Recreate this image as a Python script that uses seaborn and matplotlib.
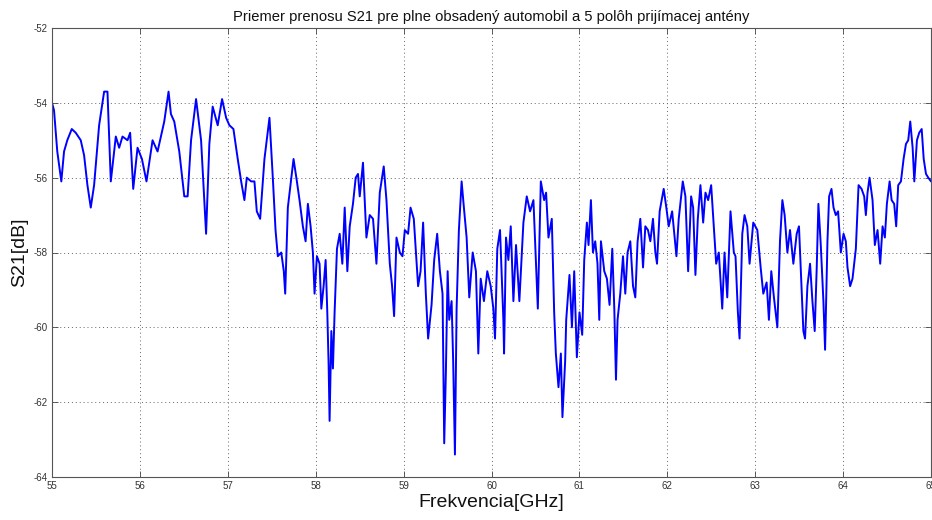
import numpy as np
import pandas as pd
import matplotlib
matplotlib.use("Agg")
import matplotlib.pyplot as plt
import seaborn as sns

# Frequency [GHz] and S21 [dB]
freq_ghz = [
    55.000, 55.023, 55.060, 55.106, 55.137, 55.174, 55.225, 55.270, 55.327, 55.365,
    55.403, 55.441, 55.479, 55.536, 55.593, 55.631, 55.669, 55.726, 55.764, 55.802,
    55.859, 55.889, 55.924, 55.973, 56.023, 56.075, 56.144, 56.201, 56.277, 56.326,
    56.353, 56.391, 56.448, 56.505, 56.543, 56.582, 56.639, 56.696, 56.753, 56.790,
    56.828, 56.885, 56.935, 56.981, 57.018, 57.064, 57.113, 57.152, 57.189, 57.216,
    57.266, 57.303, 57.330, 57.368, 57.417, 57.474, 57.512, 57.543, 57.569, 57.608,
    57.637, 57.653, 57.683, 57.748, 57.786, 57.816, 57.854, 57.885, 57.911, 57.942,
    57.968, 57.987, 58.014, 58.044, 58.064, 58.090, 58.113, 58.132, 58.147, 58.158,
    58.178, 58.196, 58.215, 58.242, 58.273, 58.303, 58.330, 58.360, 58.387, 58.424,
    58.455, 58.481, 58.501, 58.538, 58.577, 58.615, 58.652, 58.691, 58.729, 58.774,
    58.805, 58.843, 58.869, 58.892, 58.919, 58.957, 58.987, 59.014, 59.051, 59.079,
    59.116, 59.165, 59.193, 59.222, 59.253, 59.279, 59.318, 59.348, 59.382, 59.413,
    59.443, 59.462, 59.481, 59.501, 59.519, 59.546, 59.564, 59.584, 59.603, 59.629,
    59.660, 59.686, 59.717, 59.747, 59.786, 59.823, 59.850, 59.877, 59.914, 59.952,
    59.991, 60.021, 60.040, 60.066, 60.097, 60.135, 60.143, 60.165, 60.192, 60.219,
    60.249, 60.279, 60.317, 60.363, 60.401, 60.439, 60.477, 60.527, 60.561, 60.599,
    60.621, 60.648, 60.686, 60.713, 60.732, 60.762, 60.789, 60.807, 60.838, 60.850,
    60.887, 60.915, 60.941, 60.971, 61.001, 61.032, 61.055, 61.085, 61.104, 61.131,
    61.154, 61.180, 61.206, 61.226, 61.245, 61.283, 61.313, 61.343, 61.374, 61.397,
    61.416, 61.434, 61.465, 61.496, 61.522, 61.548, 61.579, 61.610, 61.636, 61.662,
    61.693, 61.724, 61.750, 61.780, 61.807, 61.837, 61.864, 61.883, 61.913, 61.959,
    61.989, 62.016, 62.055, 62.104, 62.130, 62.176, 62.206, 62.237, 62.271, 62.294,
    62.320, 62.347, 62.377, 62.408, 62.434, 62.465, 62.499, 62.529, 62.556, 62.586,
    62.625, 62.651, 62.682, 62.719, 62.757, 62.776, 62.803, 62.822, 62.853, 62.879,
    62.910, 62.936, 62.978, 63.024, 63.062, 63.092, 63.130, 63.156, 63.183, 63.213,
    63.252, 63.282, 63.309, 63.335, 63.366, 63.396, 63.434, 63.472, 63.498, 63.526,
    63.548, 63.567, 63.594, 63.624, 63.651, 63.677, 63.700, 63.719, 63.746, 63.776,
    63.795, 63.822, 63.841, 63.868, 63.891, 63.917, 63.943, 63.974, 64.005, 64.031,
    64.050, 64.080, 64.107, 64.145, 64.176, 64.210, 64.240, 64.259, 64.278, 64.301,
    64.335, 64.361, 64.392, 64.422, 64.449, 64.475, 64.498, 64.529, 64.552, 64.581,
    64.604, 64.627, 64.658, 64.688, 64.715, 64.741, 64.764, 64.791, 64.810, 64.840,
    64.866, 64.894, 64.917, 64.943, 64.969, 65.000,
]
s21_db = [
    -54.0, -54.2, -55.3, -56.1, -55.3, -55.0, -54.7, -54.8, -55.0, -55.4,
    -56.2, -56.8, -56.2, -54.6, -53.7, -53.7, -56.1, -54.9, -55.2, -54.9,
    -55.0, -54.8, -56.3, -55.2, -55.5, -56.1, -55.0, -55.3, -54.5, -53.7,
    -54.3, -54.5, -55.3, -56.5, -56.5, -55.0, -53.9, -55.0, -57.5, -55.1,
    -54.1, -54.6, -53.9, -54.4, -54.6, -54.7, -55.5, -56.1, -56.6, -56.0,
    -56.1, -56.1, -56.9, -57.1, -55.5, -54.4, -56.0, -57.4, -58.1, -58.0,
    -58.5, -59.1, -56.8, -55.5, -56.1, -56.6, -57.3, -57.7, -56.7, -57.3,
    -58.0, -59.1, -58.1, -58.3, -59.5, -58.9, -58.2, -59.6, -61.0, -62.5,
    -60.1, -61.1, -59.6, -57.9, -57.5, -58.3, -56.8, -58.5, -57.3, -56.7,
    -56.0, -55.9, -56.5, -55.6, -57.6, -57.0, -57.1, -58.3, -56.4, -55.7,
    -56.6, -58.3, -58.9, -59.7, -57.6, -58.0, -58.1, -57.4, -57.5, -56.8,
    -57.1, -58.9, -58.5, -57.2, -59.1, -60.3, -59.4, -58.2, -57.5, -58.5,
    -59.1, -63.1, -61.2, -58.5, -59.8, -59.3, -60.9, -63.4, -59.5, -57.4,
    -56.1, -56.8, -57.6, -59.2, -58.0, -58.5, -60.7, -58.7, -59.3, -58.5,
    -58.9, -59.5, -60.3, -57.9, -57.4, -59.8, -60.7, -57.6, -58.2, -57.3,
    -59.3, -57.8, -59.3, -57.2, -56.5, -56.9, -56.6, -59.5, -56.1, -56.6,
    -56.4, -57.6, -57.1, -59.6, -60.7, -61.6, -60.7, -62.4, -60.9, -59.8,
    -58.6, -60.0, -58.5, -60.8, -59.6, -60.2, -58.2, -57.2, -57.8, -56.6,
    -58.0, -57.7, -58.3, -59.8, -57.7, -58.5, -58.7, -59.4, -57.9, -59.5,
    -61.4, -59.8, -59.1, -58.1, -59.1, -58.0, -57.7, -58.9, -59.2, -57.7,
    -57.1, -58.4, -57.3, -57.4, -57.7, -57.1, -58.0, -58.3, -56.9, -56.3,
    -56.8, -57.3, -56.9, -58.1, -57.1, -56.1, -56.5, -58.5, -56.5, -56.8,
    -58.6, -57.1, -56.2, -57.2, -56.4, -56.6, -56.2, -57.3, -58.3, -58.0,
    -59.5, -58.0, -59.2, -56.9, -58.0, -58.1, -59.6, -60.3, -57.5, -57.0,
    -57.3, -58.3, -57.2, -57.4, -58.4, -59.1, -58.8, -59.8, -58.5, -59.2,
    -60.0, -57.7, -56.6, -57.0, -58.0, -57.4, -58.3, -57.5, -57.3, -58.9,
    -60.1, -60.3, -58.9, -58.3, -59.3, -60.1, -58.4, -56.7, -57.8, -59.3,
    -60.6, -57.7, -56.5, -56.3, -56.8, -57.0, -56.9, -58.0, -57.5, -57.7,
    -58.4, -58.9, -58.7, -57.9, -56.2, -56.3, -56.5, -57.0, -56.4, -56.0,
    -56.6, -57.8, -57.4, -58.3, -57.3, -57.6, -56.7, -56.1, -56.6, -56.7,
    -57.3, -56.2, -56.1, -55.5, -55.1, -55.0, -54.5, -55.2, -56.1, -55.0,
    -54.8, -54.7, -55.5, -55.9, -56.0, -56.1,
]

x_ticks = [55, 56, 57, 58, 59, 60, 61, 62, 63, 64, 65]
y_ticks = [-64, -62, -60, -58, -56, -54, -52]

title_text = "Priemer prenosu S21 pre plne obsadený automobil a 5 polôh prijímacej antény"
x_label = "Frekvencia[GHz]"
y_label = "S21[dB]"

sns.set_theme(style="white")
plt.rcParams["font.family"] = ["Liberation Sans", "DejaVu Sans"]

df = pd.DataFrame({"f": freq_ghz, "s21": s21_db})

fig = plt.figure(figsize=(9.32, 5.2), dpi=100)
ax = fig.add_axes([52 / 932, 1 - 477 / 520, (931 - 52) / 932, (477 - 28) / 520])

sns.lineplot(data=df, x="f", y="s21", ax=ax, color="#0000FF", linewidth=1.4,
             sort=False, estimator=None)

ax.set_xlim(55, 65)
ax.set_ylim(-64, -52)
ax.set_xticks(x_ticks)
ax.set_yticks(y_ticks)
ax.set_xticklabels([str(t) for t in x_ticks])
ax.set_yticklabels([str(t) for t in y_ticks])

ax.grid(True, color="#666666", linestyle=(0, (1, 3)), linewidth=0.7)
for sp in ax.spines.values():
    sp.set_color("#555555")
    sp.set_linewidth(0.8)
ax.tick_params(axis="both", direction="in", length=4, width=0.6, colors="#444444",
               labelsize=7, top=True, right=True, bottom=True, left=True, pad=3)
for lab in ax.get_xticklabels() + ax.get_yticklabels():
    lab.set_color("#333333")

ax.set_title(title_text, fontsize=10.6, pad=5, color="#111111")
ax.set_xlabel(x_label, fontsize=14, labelpad=2, color="#111111")
ax.set_ylabel(y_label, fontsize=14, labelpad=4, color="#111111")

fig.savefig("out.png", dpi=100, facecolor="white")
